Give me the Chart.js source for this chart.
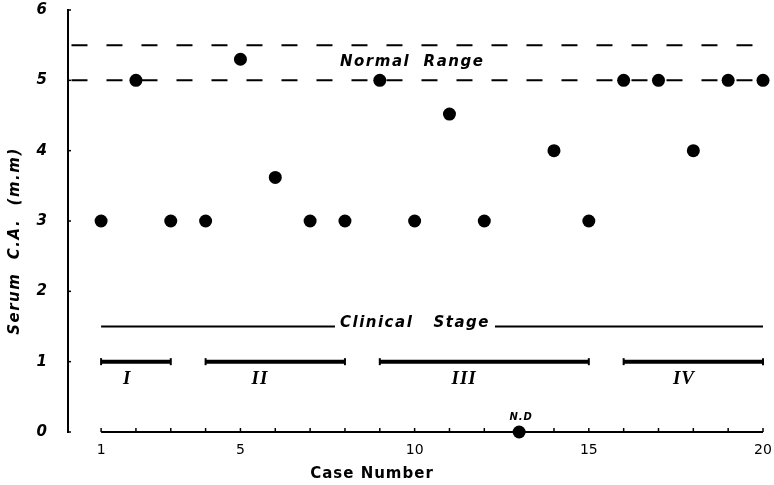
<!DOCTYPE html>
<html>
<head>
<meta charset="utf-8">
<script src="https://cdn.jsdelivr.net/npm/chart.js@4/dist/chart.umd.min.js"></script>
<style>
  html, body { margin: 0; padding: 0; background: #fff; }
  #wrap { width: 774px; height: 485px; }
</style>
</head>
<body>
<div id="wrap"><canvas id="c" width="774" height="485"></canvas></div>
<script>
// Serum C.A. per case (case 13 not determined, plotted on the axis)
const caseNumbers = [1, 2, 3, 4, 5, 6, 7, 8, 9, 10, 11, 12, 13, 14, 15, 16, 17, 18, 19, 20];
const serumCA = [3, 5, 3, 3, 5.3, 3.62, 3, 3, 5, 3, 4.52, 3, 0, 4, 3, 5, 5, 4, 5, 5];
const notDeterminedCase = 13;

// Normal range limits
const normalRange = [5.0, 5.5];

// Clinical stages: case spans
const stageNames = ['I', 'II', 'III', 'IV'];
const stageFirstCase = [1, 4, 9, 16];
const stageLastCase = [3, 8, 15, 20];
const clinicalStageLevel = 1.5;
const stageBarLevel = 1;

// Axis ticks
const xTickLabels = [1, 5, 10, 15, 20];
const yTickValues = [0, 1, 2, 3, 4, 5, 6];

// Label anchors (data units)
const stageLabelX = [1.75, 5.56, 11.42, 17.73];
const stageLabelY = 0.75;

const INK = '#000';
const SANS = "'DejaVu Sans', sans-serif";

const datasets = [];

datasets.push({
  type: 'scatter',
  label: 'Serum C.A.',
  data: caseNumbers.map((x, i) => ({ x, y: serumCA[i] })),
  pointRadius: 6.5,
  pointHoverRadius: 6.5,
  backgroundColor: INK,
  borderWidth: 0,
  clip: false,
  order: 0
});

normalRange.forEach(level => {
  datasets.push({
    type: 'line',
    label: 'normal ' + level,
    data: [{ x: 0.15, y: level }, { x: 20, y: level }],
    borderColor: INK,
    borderWidth: 2,
    borderDash: [16, 19],
    pointRadius: 0,
    clip: false,
    order: 2
  });
});

datasets.push({
  type: 'line',
  label: 'clinical stage',
  data: [{ x: 1, y: clinicalStageLevel }, { x: 20, y: clinicalStageLevel }],
  borderColor: INK,
  borderWidth: 1.8,
  pointRadius: 0,
  clip: false,
  order: 2
});

stageNames.forEach((name, i) => {
  datasets.push({
    type: 'line',
    label: 'stage ' + name,
    data: [{ x: stageFirstCase[i], y: stageBarLevel }, { x: stageLastCase[i], y: stageBarLevel }],
    borderColor: INK,
    borderWidth: 4,
    borderCapStyle: 'butt',
    pointStyle: 'line',
    rotation: 90,
    pointRadius: 3.5,
    pointHoverRadius: 3.5,
    pointBorderColor: INK,
    pointBorderWidth: 2,
    clip: false,
    order: 2
  });
});

function drawText(ctx, text, x, y, font, spacing) {
  ctx.save();
  ctx.font = font;
  ctx.letterSpacing = (spacing || 0) + 'px';
  ctx.fillStyle = INK;
  ctx.textAlign = 'center';
  ctx.textBaseline = 'middle';
  ctx.fillText(text, x, y);
  ctx.restore();
}

const axesAndNotes = {
  id: 'axesAndNotes',
  beforeDatasetsDraw(chart) {
    const { ctx, scales: { x, y } } = chart;
    ctx.save();
    ctx.strokeStyle = INK;
    // case axis, starting at the first case
    const y0 = y.getPixelForValue(0);
    ctx.lineWidth = 2;
    ctx.beginPath();
    ctx.moveTo(x.getPixelForValue(caseNumbers[0]), y0);
    ctx.lineTo(x.getPixelForValue(caseNumbers[caseNumbers.length - 1]), y0);
    ctx.stroke();
    ctx.lineWidth = 1.5;
    caseNumbers.forEach(c => {
      const px = x.getPixelForValue(c);
      ctx.beginPath();
      ctx.moveTo(px, y0);
      ctx.lineTo(px, y0 - 4);
      ctx.stroke();
    });
    // inward ticks on the value axis
    const xl = chart.chartArea.left;
    yTickValues.forEach(v => {
      const py = y.getPixelForValue(v);
      ctx.beginPath();
      ctx.moveTo(xl, py);
      ctx.lineTo(xl + 3, py);
      ctx.stroke();
    });
    ctx.restore();
  },
  afterDatasetsDraw(chart) {
    const { ctx, scales: { x, y } } = chart;

    // Normal range caption
    drawText(ctx, 'Normal  Range', x.getPixelForValue(9.93), y.getPixelForValue(5.26),
      `italic bold 15px ${SANS}`, 1.5);

    // Clinical stage caption over its line
    const csx = x.getPixelForValue(10.01);
    const csy = y.getPixelForValue(clinicalStageLevel);
    ctx.save();
    ctx.fillStyle = '#fff';
    ctx.fillRect(csx - 80, csy - 8, 160, 16);
    ctx.restore();
    drawText(ctx, 'Clinical   Stage', csx, csy - 3, `italic bold 15px ${SANS}`, 1.5);

    // Stage numerals
    stageNames.forEach((name, i) => {
      drawText(ctx, name, x.getPixelForValue(stageLabelX[i]), y.getPixelForValue(stageLabelY),
        "italic bold 19px 'Liberation Serif', serif", 1);
    });

    // Not determined marker label
    drawText(ctx, 'N.D', x.getPixelForValue(notDeterminedCase) + 2, y.getPixelForValue(0) - 15,
      `italic bold 10px ${SANS}`, 1);

    // Axis titles
    drawText(ctx, 'Case Number', 372, 474, `bold 15px ${SANS}`, 1);
    ctx.save();
    ctx.translate(15, 241);
    ctx.rotate(-Math.PI / 2);
    drawText(ctx, 'Serum  C.A.  (m.m)', 0, 0, `italic bold 15px ${SANS}`, 1.5);
    ctx.restore();
  }
};

function noEdgePadding(s) {
  s.paddingLeft = 0;
  s.paddingRight = 0;
  s.paddingTop = 0;
  s.paddingBottom = 0;
}

new Chart(document.getElementById('c'), {
  data: { datasets },
  options: {
    responsive: false,
    animation: false,
    events: [],
    layout: { padding: { top: 10, right: 11, left: 0, bottom: 0 } },
    plugins: {
      legend: { display: false },
      tooltip: { enabled: false }
    },
    scales: {
      x: {
        type: 'linear',
        min: 0.05,
        max: 20,
        afterBuildTicks: s => { s.ticks = xTickLabels.map(v => ({ value: v })); },
        afterFit: s => { s.height = 53; noEdgePadding(s); },
        grid: { display: false, drawTicks: false },
        border: { display: false },
        ticks: {
          color: INK,
          padding: 10,
          autoSkip: false,
          maxRotation: 0,
          font: { family: "'DejaVu Sans', sans-serif", size: 14 }
        }
      },
      y: {
        type: 'linear',
        min: 0,
        max: 6,
        afterBuildTicks: s => { s.ticks = yTickValues.map(v => ({ value: v })); },
        afterFit: s => { s.width = 68; noEdgePadding(s); },
        grid: { display: false, drawTicks: false },
        border: { display: true, color: INK, width: 2 },
        ticks: {
          color: INK,
          padding: 21,
          font: { family: "'DejaVu Sans', sans-serif", size: 15, style: 'italic', weight: 'bold' }
        }
      }
    }
  },
  plugins: [axesAndNotes]
});
</script>
</body>
</html>
